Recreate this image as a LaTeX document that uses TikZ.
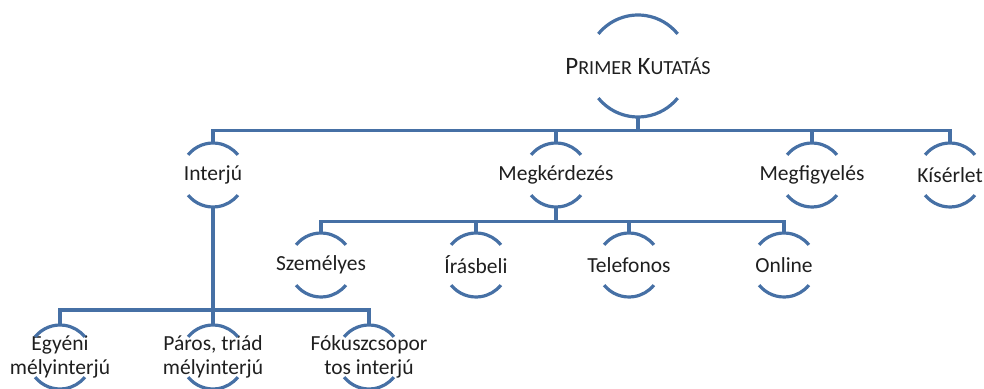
\documentclass[tikz,border=0pt]{standalone}
\usepackage{fontspec}
\setmainfont{Carlito}
\definecolor{lineblue}{RGB}{70,112,165}
\newcommand\circnode[5]{% name, x, y, r, text
  \node[lbl] (#1) at (#2,#3) {#5};
  \coordinate (#1-t) at (#2,#3+#4);
  \coordinate (#1-b) at (#2,#3-#4);
  \draw[arcline] (#1.center) ++(141:#4) arc[start angle=141,end angle=39,radius=#4];
  \draw[arcline] (#1.center) ++(219:#4) arc[start angle=219,end angle=321,radius=#4];
}
\begin{document}
\begin{tikzpicture}[x=1pt,y=1pt,
  conn/.style={draw=lineblue, line width=3.2pt, line join=miter},
  arcline/.style={draw=lineblue, line width=3.2pt},
  lbl/.style={font=\fontsize{21.5}{24.5}\selectfont, align=center, inner sep=0pt, text=black!88}]
\useasboundingbox (0,0) rectangle (984,388);
\coordinate (bar1) at (0,257.5);
\coordinate (bar2) at (0,166.5);
\coordinate (bar3) at (0,78);

\circnode{root}{638}{322}{51}{{\fontsize{25}{30}\selectfont P}{\fontsize{20}{30}\selectfont RIMER}{\fontsize{25}{30}\selectfont{} K}{\fontsize{20}{30}\selectfont UTATÁS}}

\circnode{int}{213}{213}{32}{Interjú}
\circnode{megk}{556}{213}{32}{Megkérdezés}
\circnode{megf}{812}{213}{32}{Megfigyelés}
\circnode{kis}{950}{213}{32}{Kísérlet}

\circnode{szem}{321}{123}{32}{Személyes}
\circnode{iras}{476}{123}{32}{Írásbeli}
\circnode{tel}{629}{123}{32}{Telefonos}
\circnode{onl}{784}{123}{32}{Online}

\circnode{egy}{60}{31}{32}{Egyéni\\mélyinterjú}
\circnode{par}{213}{31}{32}{Páros, triád\\mélyinterjú}
\circnode{fok}{369}{31}{32}{Fókuszcsopor\\tos interjú}

\foreach \c in {int,megk,megf,kis}
  \draw[conn] (root-b) -- (root-b |- bar1) -| (\c-t);
\foreach \c in {szem,iras,tel,onl}
  \draw[conn] (megk-b) -- (megk-b |- bar2) -| (\c-t);
\foreach \c in {egy,par,fok}
  \draw[conn] (int-b) -- (int-b |- bar3) -| (\c-t);
\end{tikzpicture}
\end{document}
